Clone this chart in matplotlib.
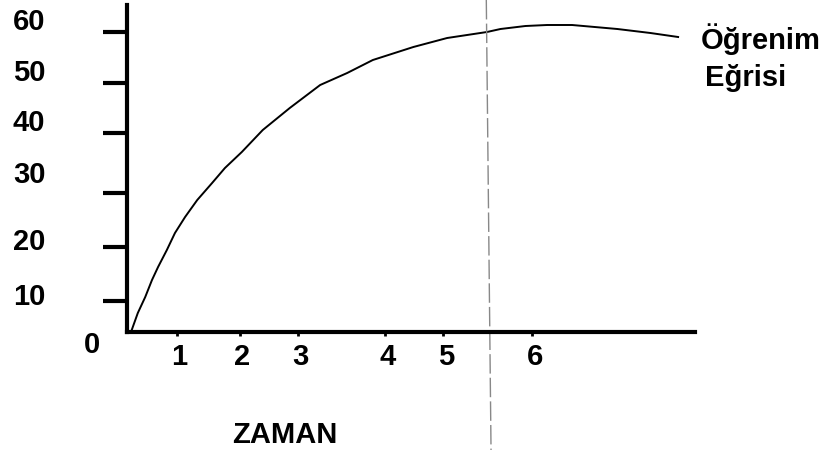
import matplotlib
matplotlib.use('Agg')
import matplotlib.pyplot as plt

# learning curve (x = time, y = score)
curve_x = [0.07, 0.16, 0.27, 0.37, 0.46, 0.59, 0.71, 0.86, 1.04, 1.26, 1.45, 1.70,
           2.01, 2.41, 2.86, 3.26, 3.64, 4.24, 4.74, 5.33, 5.53, 5.90, 6.22, 6.59,
           7.26, 7.75, 8.16]
curve_y = [0.4, 3.8, 7.0, 10.4, 13.0, 16.4, 19.8, 23.0, 26.4, 29.8, 32.8, 36.0,
           40.4, 44.8, 49.4, 51.8, 54.4, 57.0, 58.8, 60.0, 60.6, 61.2, 61.4, 61.4,
           60.6, 59.8, 59.0]

# hand drawn ticks are not evenly spaced
xtick_pos = [0.74, 1.67, 2.53, 3.82, 4.68, 6.0]
xtick_labels = ['1', '2', '3', '4', '5', '6']
ytick_pos = [6.2, 17.0, 27.8, 39.8, 49.8, 60.0]
ytick_label_y = [7.0, 18.0, 31.4, 41.8, 51.8, 62.0]
ytick_labels = ['10', '20', '30', '40', '50', '60']

marker_x = [5.32, 5.39]
marker_y = [66.4, -23.6]

plt.rcParams['font.family'] = ['Liberation Sans', 'DejaVu Sans']

fig = plt.figure(figsize=(8.26, 4.5), dpi=100)
ax = fig.add_axes([127 / 826, 118 / 450, 568 / 826, 327 / 450])
ax.set_xlim(0, 8.41)
ax.set_ylim(0, 65.4)

ax.plot(curve_x, curve_y, color='black', lw=1.4)
ax.plot(marker_x, marker_y, color='#888888', lw=1, dashes=(14, 3), clip_on=False)

for side in ['top', 'right']:
    ax.spines[side].set_visible(False)
for side in ['left', 'bottom']:
    ax.spines[side].set_linewidth(3)

ax.set_xticks(xtick_pos)
ax.set_yticks(ytick_pos)
ax.tick_params(axis='y', direction='out', length=17, width=3, labelleft=False)
ax.tick_params(axis='x', direction='out', length=3, width=2, labelbottom=False)

font = dict(fontsize=21, fontweight='bold', color='black')
for y, lab in zip(ytick_label_y, ytick_labels):
    ax.text(-1.45, y, lab, ha='center', va='center', clip_on=False, **font)
for x, lab in zip(xtick_pos, xtick_labels):
    ax.text(x + 0.04, -5.0, lab, ha='center', va='center', clip_on=False, **font)
ax.text(-0.52, -2.6, '0', ha='center', va='center', clip_on=False, **font)

ax.text(2.34, -20.6, 'ZAMAN', ha='center', va='center', fontsize=21,
        fontweight='bold', clip_on=False)
ax.text(8.49, 56.6, 'Öğrenim', ha='left', va='baseline', fontsize=21,
        fontweight='bold', clip_on=False)
ax.text(8.56, 49.2, 'Eğrisi', ha='left', va='baseline', fontsize=21,
        fontweight='bold', clip_on=False)

fig.savefig('out.png', dpi=100)
